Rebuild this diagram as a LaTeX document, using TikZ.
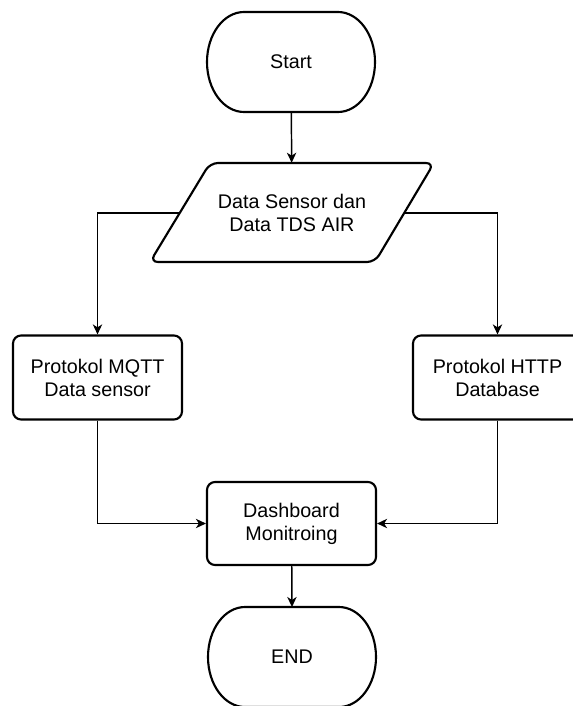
\documentclass[tikz,border=0pt]{standalone}
\usepackage{fontspec}
\setmainfont{Liberation Sans}
\usetikzlibrary{arrows.meta,calc}

\tikzset{
  shapeline/.style={line width=1.6pt, line join=round},
  box/.style={shapeline, draw, rounded corners=6pt, minimum width=126.75pt, minimum height=63pt, align=center},
  txt/.style={align=center, font=\fontsize{14.8pt}{17.3pt}\selectfont, text=black},
  link/.style={line width=1.1pt, -{Stealth[length=7.5pt,width=7pt,inset=2.2pt]}},
}

\begin{document}
\begin{tikzpicture}[x=0.75pt,y=-0.75pt]
  \clip (0,0) rectangle (573,706);
  \useasboundingbox (0,0) rectangle (573,706);
  \fill[white] (0,0) rectangle (573,706);

  % terminals: half-width 84, half-height 50, elliptic ends of x radius 37
  \node[txt, minimum width=126pt, minimum height=75pt, inner sep=0pt] (start) at (291,62) {Start};
  \draw[shapeline] ($(start.center)+(-47,-50)$) -- ($(start.center)+(47,-50)$)
    arc[start angle=-90, end angle=90, x radius=37, y radius=50]
    -- ($(start.center)+(-47,50)$)
    arc[start angle=90, end angle=270, x radius=37, y radius=50] -- cycle;

  \node[txt, minimum width=126pt, minimum height=75pt, inner sep=0pt] (end) at (292,657) {END};
  \draw[shapeline] ($(end.center)+(-47,-50)$) -- ($(end.center)+(47,-50)$)
    arc[start angle=-90, end angle=90, x radius=37, y radius=50]
    -- ($(end.center)+(-47,50)$)
    arc[start angle=90, end angle=270, x radius=37, y radius=50] -- cycle;

  % input parallelogram
  \node[txt, minimum width=120pt, minimum height=74.25pt, inner sep=0pt] (input) at (292,212.5)
    {Data Sensor dan\\Data TDS AIR};
  \draw[shapeline, rounded corners=6pt] (210,163) -- (434,163) -- (375,262) -- (150,262) -- cycle;
  \coordinate (inL) at (180,213);
  \coordinate (inR) at (404.5,213);

  % process boxes
  \node[box, txt] (mqtt) at (97.5,377.5) {Protokol MQTT\\Data sensor};
  \node[box, txt] (http) at (497.5,377.5) {Protokol HTTP\\Database};
  \node[box, txt, minimum height=62.25pt] (dash) at (291.5,523.5) {Dashboard\\Monitroing};

  % connectors
  \draw[link] (start) -- (input);
  \draw[link] (inL) -| (mqtt);
  \draw[link] (inR) -| (http);
  \draw[link] (mqtt) |- (dash);
  \draw[link] (http) |- (dash);
  \draw[link] (dash) -- ($(end.center)+(0,-50)$);
\end{tikzpicture}
\end{document}
